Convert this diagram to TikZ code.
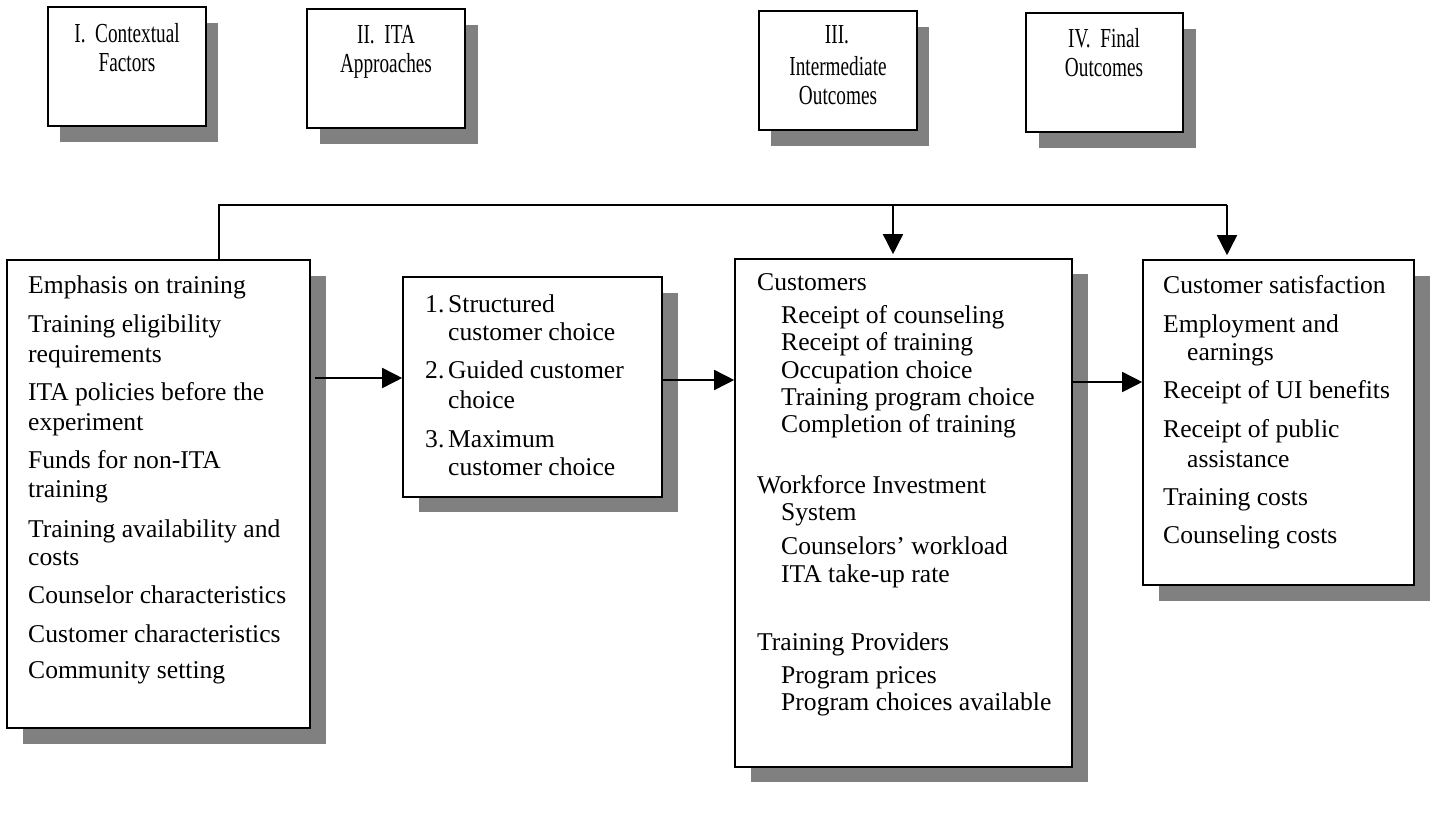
\documentclass[tikz,border=0pt]{standalone}
\usepackage{fontspec}
\setmainfont{Liberation Serif}
\usetikzlibrary{arrows.meta,fit,calc}
\begin{document}
\begin{tikzpicture}[x=1pt,y=-1pt,
  shadowc/.style={fill=black!50},
  boxst/.style={draw, line width=1.6pt, fill=white, inner sep=0pt},
  txt/.style={anchor=base west, inner sep=0pt, font=\fontsize{25.6}{30}\selectfont},
  htxt/.style={anchor=base, inner sep=0pt, font=\fontsize{27.5}{30}\selectfont},
  conn/.style={line width=1.6pt},
  arr/.style={line width=1.6pt, -{Triangle[length=20pt,width=20pt]}}]
\useasboundingbox (0,0) rectangle (1432,835);

% header boxes
\fill[shadowc] (60,23) rectangle (218,142);
\node[boxst, fit={(48,7) (206,126)}] (H1) {};
\fill[shadowc] (320,25) rectangle (478,144);
\node[boxst, fit={(307,9) (465,128)}] (H2) {};
\fill[shadowc] (771,27) rectangle (929,146);
\node[boxst, fit={(759,11) (917,130)}] (H3) {};
\fill[shadowc] (1039,29) rectangle (1196,148);
\node[boxst, fit={(1026,13) (1183,132)}] (H4) {};

\node[htxt] (h1a) at (127,42) {\scalebox{0.7}[1]{I.\ \ Contextual}};
\node[htxt] (h1b) at (127,71) {\scalebox{0.7}[1]{Factors}};
\node[htxt] (h2a) at (386,43) {\scalebox{0.7}[1]{II.\ \ ITA}};
\node[htxt] (h2b) at (386,72) {\scalebox{0.7}[1]{Approaches}};
\node[htxt] (h3a) at (837,43) {\scalebox{0.7}[1]{III.}};
\node[htxt] (h3b) at (838,75) {\scalebox{0.7}[1]{Intermediate}};
\node[htxt] (h3c) at (838,104) {\scalebox{0.7}[1]{Outcomes}};
\node[htxt] (h4a) at (1104,47) {\scalebox{0.7}[1]{IV.\ \ Final}};
\node[htxt] (h4b) at (1104,76) {\scalebox{0.7}[1]{Outcomes}};

% main boxes
\fill[shadowc] (23,276) rectangle (326,744);
\node[boxst, fit={(7,260) (310,728)}] (A) {};
\fill[shadowc] (419,293) rectangle (678,512);
\node[boxst, fit={(403,277) (662,497)}] (B) {};
\fill[shadowc] (751,274) rectangle (1088,782);
\node[boxst, fit={(735,259) (1072,767)}] (C) {};
\fill[shadowc] (1159,276) rectangle (1430,601);
\node[boxst, fit={(1143,260) (1414,585)}] (D) {};

% connectors
\coordinate (a1) at (315,378);
\draw[arr] (a1) -- (a1 -| B.west);
\draw[arr] (B.east |- 0,380) -- (C.west |- 0,380);
\draw[arr] (C.east |- 0,382) -- (D.west |- 0,382);
\coordinate (tA) at (219,205);
\coordinate (tC) at (893,205);
\coordinate (tD) at (1227,205);
\draw[conn] (tA |- A.north) -- (tA) -- (tD);
\draw[arr] (tC) -- ([yshift=4pt]tC |- C.north);
\draw[arr] (tD) -- ([yshift=4pt]tD |- D.north);

% box A text
\node[txt] (ta1) at (28,293) {Emphasis on training};
\node[txt] (ta2) at (28,332) {Training eligibility};
\node[txt] (ta3) at (28,362) {requirements};
\node[txt] (ta4) at (28,400) {ITA policies before the};
\node[txt] (ta5) at (28,430) {experiment};
\node[txt] (ta6) at (28,468) {Funds for non-ITA};
\node[txt] (ta7) at (28,497) {training};
\node[txt] (ta8) at (28,537) {Training availability and};
\node[txt] (ta9) at (28,565) {costs};
\node[txt] (ta10) at (28,603) {Counselor characteristics};
\node[txt] (ta11) at (28,642) {Customer characteristics};
\node[txt] (ta12) at (28,678) {Community setting};

% box B text
\node[txt] (tb1n) at (425,312) {1.};
\node[txt] (tb1) at (448,312) {Structured};
\node[txt] (tb2) at (448,340) {customer choice};
\node[txt] (tb3n) at (425,378) {2.};
\node[txt] (tb3) at (448,378) {Guided customer};
\node[txt] (tb4) at (448,408) {choice};
\node[txt] (tb5n) at (425,447) {3.};
\node[txt] (tb5) at (448,447) {Maximum};
\node[txt] (tb6) at (448,475) {customer choice};

% box C text
\node[txt] (tc1) at (757,290) {Customers};
\node[txt] (tc2) at (781,323) {Receipt of counseling};
\node[txt] (tc3) at (781,350) {Receipt of training};
\node[txt] (tc4) at (781,378) {Occupation choice};
\node[txt] (tc5) at (781,405) {Training program choice};
\node[txt] (tc6) at (781,432) {Completion of training};
\node[txt] (tc7) at (757,493) {Workforce Investment};
\node[txt] (tc8) at (781,520) {System};
\node[txt] (tc9) at (781,554) {Counselors’ workload};
\node[txt] (tc10) at (781,582) {ITA take-up rate};
\node[txt] (tc11) at (757,650) {Training Providers};
\node[txt] (tc12) at (781,683) {Program prices};
\node[txt] (tc13) at (781,710) {Program choices available};

% box D text
\node[txt] (td1) at (1163,293) {Customer satisfaction};
\node[txt] (td2) at (1163,332) {Employment and};
\node[txt] (td3) at (1187,360) {earnings};
\node[txt] (td4) at (1163,398) {Receipt of UI benefits};
\node[txt] (td5) at (1163,437) {Receipt of public};
\node[txt] (td6) at (1187,467) {assistance};
\node[txt] (td7) at (1163,505) {Training costs};
\node[txt] (td8) at (1163,543) {Counseling costs};
\end{tikzpicture}
\end{document}
